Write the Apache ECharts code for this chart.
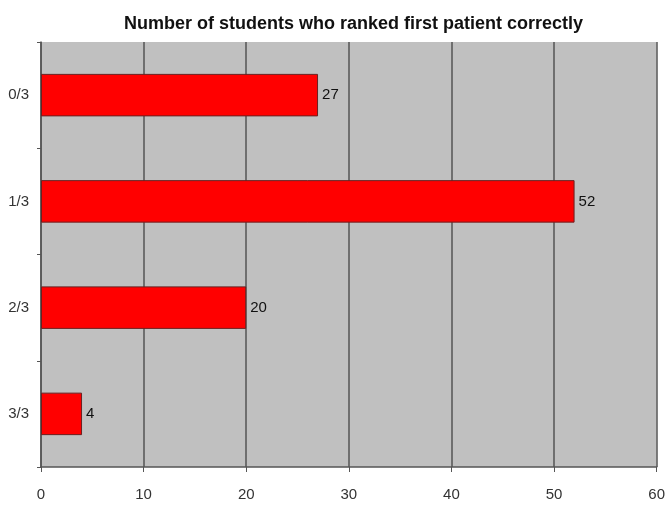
<!DOCTYPE html>
<html>
<head>
<meta charset="utf-8">
<script src="https://cdn.jsdelivr.net/npm/echarts@6/dist/echarts.min.js"></script>
<style>
  html, body { margin: 0; padding: 0; background: #fff; }
  #chart { width: 668px; height: 507px; }
</style>
</head>
<body>
<div id="chart"></div>
<script>
// Scores (fraction of patients ranked first correctly) and student counts
const categories = ['0/3', '1/3', '2/3', '3/3'];
const studentCounts = [27, 52, 20, 4];
const xTicks = [0, 10, 20, 30, 40, 50, 60];

const chart = echarts.init(document.getElementById('chart'), null, { renderer: 'canvas' });

const font = 'Liberation Sans, Arial, sans-serif';

chart.setOption({
  backgroundColor: '#ffffff',
  animation: false,
  title: {
    text: 'Number of students who ranked first patient correctly',
    left: 119,
    top: 10,
    textStyle: {
      fontFamily: font,
      fontWeight: 'bold',
      fontSize: 18,
      color: '#111'
    }
  },
  grid: {
    left: 41,
    right: 8,
    top: 42,
    bottom: 40,
    show: true,
    backgroundColor: '#c0c0c0',
    borderWidth: 0
  },
  xAxis: {
    type: 'value',
    min: xTicks[0],
    max: xTicks[xTicks.length - 1],
    interval: 10,
    axisLine: { show: true, lineStyle: { color: '#555', width: 1.5 } },
    axisTick: { show: true, length: 5, lineStyle: { color: '#555' } },
    axisLabel: {
      margin: 20,
      fontFamily: font,
      fontSize: 15,
      color: '#333'
    },
    splitLine: { show: true, lineStyle: { color: '#555', width: 1.5 } }
  },
  yAxis: {
    type: 'category',
    data: categories,
    inverse: true,
    axisLine: { show: true, lineStyle: { color: '#555', width: 1.5 } },
    axisTick: { show: true, length: 4, lineStyle: { color: '#555' } },
    axisLabel: {
      margin: 12,
      fontFamily: font,
      fontSize: 15,
      color: '#333'
    },
    splitLine: { show: false }
  },
  series: [{
    type: 'bar',
    data: studentCounts,
    barWidth: '40%',
    itemStyle: {
      color: '#ff0000',
      borderColor: '#6a2020',
      borderWidth: 1
    },
    label: {
      show: true,
      position: 'right',
      distance: 4,
      fontFamily: font,
      fontSize: 15,
      color: '#111'
    }
  }]
});
</script>
</body>
</html>
